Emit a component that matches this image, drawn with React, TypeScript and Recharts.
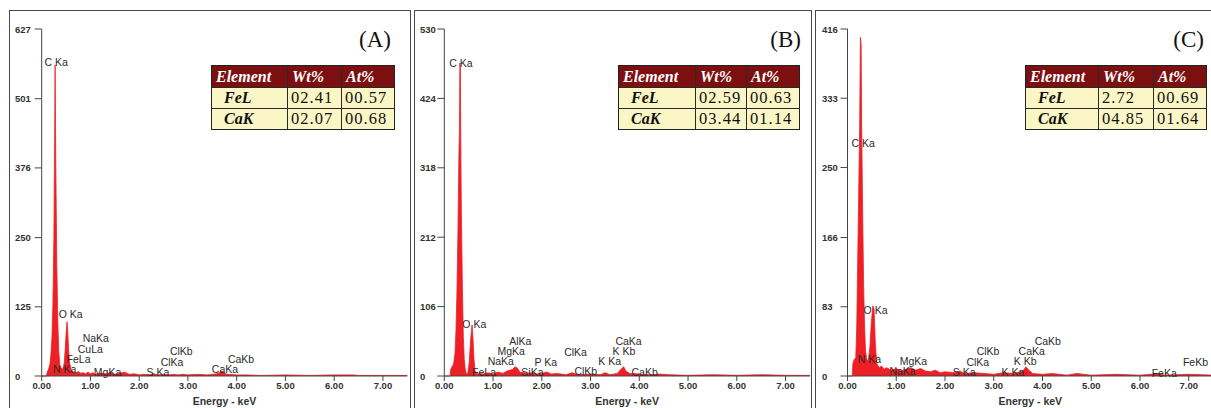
import { Area, ComposedChart, ReferenceDot, XAxis, YAxis } from "recharts";

// energia (keV), contagens
const ESPECTRO_A: [number, number][] = [
  [0, 0], [0.1, 0], [0.11, 6], [0.14, 12], [0.17, 22], [0.19, 40], [0.21, 70],
  [0.23, 130], [0.25, 250], [0.265, 420], [0.275, 562], [0.285, 430], [0.295, 330],
  [0.31, 200], [0.33, 100], [0.35, 45], [0.37, 20], [0.4, 14], [0.43, 12],
  [0.46, 22], [0.48, 45], [0.5, 75], [0.52, 98], [0.535, 80], [0.55, 50],
  [0.57, 25], [0.6, 12], [0.65, 7], [0.7, 5], [0.75, 8], [0.8, 5], [0.85, 6],
  [0.9, 4], [0.95, 7], [1.0, 4], [1.05, 6], [1.1, 3], [1.2, 5], [1.3, 4],
  [1.4, 6], [1.5, 3], [1.6, 5], [1.7, 7], [1.8, 3], [1.9, 4], [2.0, 2],
  [2.1, 3], [2.2, 2], [2.3, 4], [2.4, 2], [2.5, 3], [2.6, 2], [2.7, 3],
  [2.8, 2], [2.9, 3], [3.0, 2], [3.2, 3], [3.4, 2], [3.6, 4], [3.7, 9],
  [3.75, 5], [3.8, 3], [4.0, 2], [4.2, 2], [4.5, 1], [5.0, 2], [5.5, 1],
  [6.0, 2], [6.4, 2], [6.5, 1], [7.0, 1], [7.5, 1],
];

const ESPECTRO_B: [number, number][] = [
  [0, 0], [0.12, 0], [0.13, 10], [0.16, 14], [0.19, 18], [0.22, 35], [0.24, 70],
  [0.26, 130], [0.28, 220], [0.3, 340], [0.31, 373], [0.32, 478], [0.33, 470],
  [0.34, 340], [0.35, 250], [0.37, 140], [0.39, 60], [0.41, 25], [0.43, 10],
  [0.45, 4], [0.48, 3], [0.51, 20], [0.54, 55], [0.57, 78], [0.59, 55],
  [0.61, 25], [0.63, 8], [0.66, 3], [0.7, 4], [0.8, 3], [0.9, 5], [1.0, 3],
  [1.1, 6], [1.2, 4], [1.3, 8], [1.4, 10], [1.45, 14], [1.5, 12], [1.55, 6],
  [1.7, 4], [1.8, 5], [1.9, 3], [2.0, 4], [2.1, 6], [2.2, 3], [2.3, 4],
  [2.4, 3], [2.5, 2], [2.62, 5], [2.7, 3], [2.8, 2], [3.0, 3], [3.2, 2],
  [3.3, 5], [3.4, 2], [3.55, 4], [3.62, 10], [3.68, 14], [3.72, 8], [3.8, 4],
  [4.0, 3], [4.2, 2], [4.4, 3], [4.6, 2], [5.0, 1], [5.5, 2], [6.0, 1],
  [6.5, 2], [7.0, 1], [7.5, 1],
];

const ESPECTRO_C: [number, number][] = [
  [0, 0], [0.1, 0], [0.11, 15], [0.14, 20], [0.17, 22], [0.19, 60], [0.21, 140],
  [0.23, 220], [0.25, 300], [0.265, 406], [0.28, 397], [0.29, 301], [0.31, 200],
  [0.33, 110], [0.35, 60], [0.37, 30], [0.39, 22], [0.41, 18], [0.43, 20],
  [0.46, 35], [0.49, 65], [0.52, 84], [0.545, 80], [0.57, 40], [0.6, 15],
  [0.65, 10], [0.7, 12], [0.75, 8], [0.8, 10], [0.9, 7], [1.0, 9], [1.1, 6],
  [1.2, 8], [1.3, 10], [1.4, 7], [1.5, 9], [1.6, 6], [1.7, 5], [1.8, 7],
  [1.9, 4], [2.0, 5], [2.2, 4], [2.3, 6], [2.4, 3], [2.6, 4], [2.8, 3],
  [3.0, 2], [3.2, 4], [3.4, 3], [3.6, 6], [3.66, 11], [3.72, 7], [3.8, 3],
  [4.0, 2], [4.2, 3], [4.5, 1], [4.7, 3], [5.0, 1], [5.5, 2], [6.0, 1],
  [6.4, 3], [6.5, 1], [7.0, 2], [7.5, 1],
];

const TICKS_ENERGIA = [0, 1, 2, 3, 4, 5, 6, 7];
const TICKS_Y_A = [0, 125, 250, 376, 501, 627];
const TICKS_Y_B = [0, 106, 212, 318, 424, 530];
const TICKS_Y_C = [0, 83, 166, 250, 333, 416];

// rótulo, energia de início do texto, contagem
const PICOS_A: [string, number, number][] = [
  ["C Ka", 0.06, 568], ["O Ka", 0.35, 112], ["NaKa", 0.84, 69], ["CuLa", 0.74, 49],
  ["FeLa", 0.51, 31], ["N Ka", 0.23, 13], ["MgKa", 1.07, 7], ["S Ka", 2.15, 7],
  ["ClKa", 2.44, 25], ["ClKb", 2.63, 45], ["CaKa", 3.49, 13], ["CaKb", 3.82, 31],
];

const PICOS_B: [string, number, number][] = [
  ["C Ka", 0.1, 478], ["O Ka", 0.37, 79], ["AlKa", 1.33, 53], ["MgKa", 1.09, 38],
  ["NaKa", 0.89, 23], ["FeLa", 0.57, 6], ["SiKa", 1.58, 6], ["P Ka", 1.85, 21],
  ["ClKa", 2.46, 37], ["ClKb", 2.67, 8], ["K Ka", 3.16, 23], ["K Kb", 3.45, 38],
  ["CaKa", 3.51, 53], ["CaKb", 3.84, 6],
];

const PICOS_C: [string, number, number][] = [
  ["C Ka", 0.08, 279], ["O Ka", 0.33, 79], ["N Ka", 0.21, 20], ["NaKa", 0.86, 6],
  ["MgKa", 1.07, 18], ["S Ka", 2.16, 5], ["ClKa", 2.44, 17], ["ClKb", 2.65, 30],
  ["K Ka", 3.16, 5], ["K Kb", 3.41, 18], ["CaKa", 3.51, 30], ["CaKb", 3.84, 42],
  ["FeKa", 6.24, 4], ["FeKb", 6.88, 17],
];

const CABECALHO = ["Element", "Wt%", "At%"];
const TABELA_A = [["FeL", "02.41", "00.57"], ["CaK", "02.07", "00.68"]];
const TABELA_B = [["FeL", "02.59", "00.63"], ["CaK", "03.44", "01.14"]];
const TABELA_C = [["FeL", "2.72", "00.69"], ["CaK", "04.85", "01.64"]];

const VERMELHO = "#ee1f25";
const FONTE_EIXO = "Liberation Sans, Arial, sans-serif";
const FONTE_SERIF = "Liberation Serif, Times New Roman, serif";

function Espectro({
  espectro,
  ticksY,
  picos,
  left,
  width,
  larguraY,
  margemEsq,
  margemDir,
  xRotuloY,
}: {
  espectro: [number, number][];
  ticksY: number[];
  picos: [string, number, number][];
  left: number;
  width: number;
  larguraY: number;
  margemEsq: number;
  margemDir: number;
  xRotuloY: number;
}) {
  const dados = espectro.map(([e, c]) => ({ e, c }));
  return (
    <div style={{ position: "absolute", left, top: 0 }}>
      <ComposedChart
        width={width}
        height={408}
        data={dados}
        margin={{ top: 29, right: margemDir, bottom: 2, left: margemEsq }}
      >
        <XAxis
          dataKey="e"
          type="number"
          domain={[0, 7.5]}
          ticks={TICKS_ENERGIA}
          interval={0}
          tickFormatter={(v: number) => v.toFixed(2)}
          tick={{ fill: "#333", fontSize: 9.5, fontWeight: "bold", fontFamily: FONTE_EIXO }}
          tickSize={5}
          tickMargin={1}
          stroke="#444"
          height={30}
          label={{
            value: "Energy - keV",
            position: "insideBottom",
            offset: 1,
            fill: "#333",
            fontSize: 10.5,
            fontWeight: "bold",
            fontFamily: FONTE_EIXO,
          }}
        />
        <YAxis
          type="number"
          domain={[0, ticksY[ticksY.length - 1]]}
          ticks={ticksY}
          interval={0}
          width={larguraY}
          tickSize={7}
          tickMargin={1}
          stroke="#444"
          tick={(p: any) => (
            <text
              x={xRotuloY}
              y={p.y}
              dominantBaseline="central"
              textAnchor="start"
              fill="#333"
              fontSize={9.5}
              fontWeight="bold"
              fontFamily={FONTE_EIXO}
            >
              {p.payload.value}
            </text>
          )}
        />
        <Area
          dataKey="c"
          type="linear"
          stroke={VERMELHO}
          strokeWidth={0.8}
          fill={VERMELHO}
          fillOpacity={1}
          dot={false}
          activeDot={false}
          isAnimationActive={false}
        />
        {picos.map(([rotulo, e, c]) => (
          <ReferenceDot
            key={rotulo + e}
            x={e}
            y={c}
            r={0}
            ifOverflow="visible"
            shape={(p: any) => (
              <text
                x={p.cx}
                y={p.cy}
                dominantBaseline="central"
                fill="#2b2b2b"
                fontSize={10.5}
                fontFamily={FONTE_EIXO}
              >
                {rotulo}
              </text>
            )}
          />
        ))}
      </ComposedChart>
    </div>
  );
}

function Tabela({
  left,
  colunas,
  linhas,
}: {
  left: number;
  colunas: number[];
  linhas: string[][];
}) {
  const celula = (texto: string, j: number, cabecalho: boolean, altura: number) => (
    <div
      key={j}
      style={{
        width: colunas[j],
        height: altura,
        boxSizing: "border-box",
        borderLeft: j > 0 ? "1px solid #2a2a2a" : "none",
        paddingLeft: cabecalho ? 4 : j === 0 ? 12 : 3,
        lineHeight: `${altura}px`,
        fontFamily: FONTE_SERIF,
        fontSize: cabecalho || j === 0 ? 16 : 16.5,
        letterSpacing: !cabecalho && j > 0 ? 1 : 0,
        fontWeight: cabecalho || j === 0 ? "bold" : "normal",
        fontStyle: cabecalho || j === 0 ? "italic" : "normal",
        color: cabecalho ? "#fff" : "#111",
        whiteSpace: "nowrap",
      }}
    >
      {texto}
    </div>
  );
  return (
    <div
      style={{
        position: "absolute",
        left,
        top: 65,
        border: "1.5px solid #222",
        background: "#fbf6c6",
      }}
    >
      <div style={{ display: "flex", background: "#7c0f10" }}>
        {CABECALHO.map((t, j) => celula(t, j, true, 21))}
      </div>
      {linhas.map((linha, i) => (
        <div key={i} style={{ display: "flex", borderTop: "1px solid #2a2a2a" }}>
          {linha.map((t, j) => celula(t, j, false, 20))}
        </div>
      ))}
    </div>
  );
}

function Moldura({ left, width }: { left: number; width: number }) {
  return (
    <div
      style={{
        position: "absolute",
        left,
        top: 9.5,
        width,
        height: 420,
        boxSizing: "border-box",
        border: "1.5px solid #4a4a4a",
      }}
    />
  );
}

function Letra({ right, texto }: { right: number; texto: string }) {
  return (
    <div
      style={{
        position: "absolute",
        left: right - 40,
        width: 40,
        top: 26,
        textAlign: "right",
        fontFamily: FONTE_SERIF,
        fontSize: 23,
        lineHeight: "28px",
        color: "#111",
      }}
    >
      {texto}
    </div>
  );
}

export default function App() {
  return (
    <div
      style={{
        position: "absolute",
        left: 0,
        top: 0,
        width: 1211,
        height: 408,
        overflow: "hidden",
        background: "#fff",
      }}
    >
      <Moldura left={9} width={402} />
      <Moldura left={413.5} width={398} />
      <Moldura left={814.5} width={420} />

      <Espectro
        espectro={ESPECTRO_A}
        ticksY={TICKS_Y_A}
        picos={PICOS_A}
        left={10}
        width={400}
        larguraY={30}
        margemEsq={1.7}
        margemDir={2.7}
        xRotuloY={5}
      />
      <Espectro
        espectro={ESPECTRO_B}
        ticksY={TICKS_Y_B}
        picos={PICOS_B}
        left={415}
        width={396}
        larguraY={28}
        margemEsq={1.3}
        margemDir={1.1}
        xRotuloY={5}
      />
      <Espectro
        espectro={ESPECTRO_C}
        ticksY={TICKS_Y_C}
        picos={PICOS_C}
        left={816}
        width={398}
        larguraY={30}
        margemEsq={1.5}
        margemDir={0.9}
        xRotuloY={6}
      />

      <Tabela left={211} colunas={[75, 54, 53]} linhas={TABELA_A} />
      <Tabela left={618} colunas={[76, 51, 53]} linhas={TABELA_B} />
      <Tabela left={1025} colunas={[72, 55, 53]} linhas={TABELA_C} />

      <Letra right={391} texto="(A)" />
      <Letra right={801} texto="(B)" />
      <Letra right={1204} texto="(C)" />
    </div>
  );
}
